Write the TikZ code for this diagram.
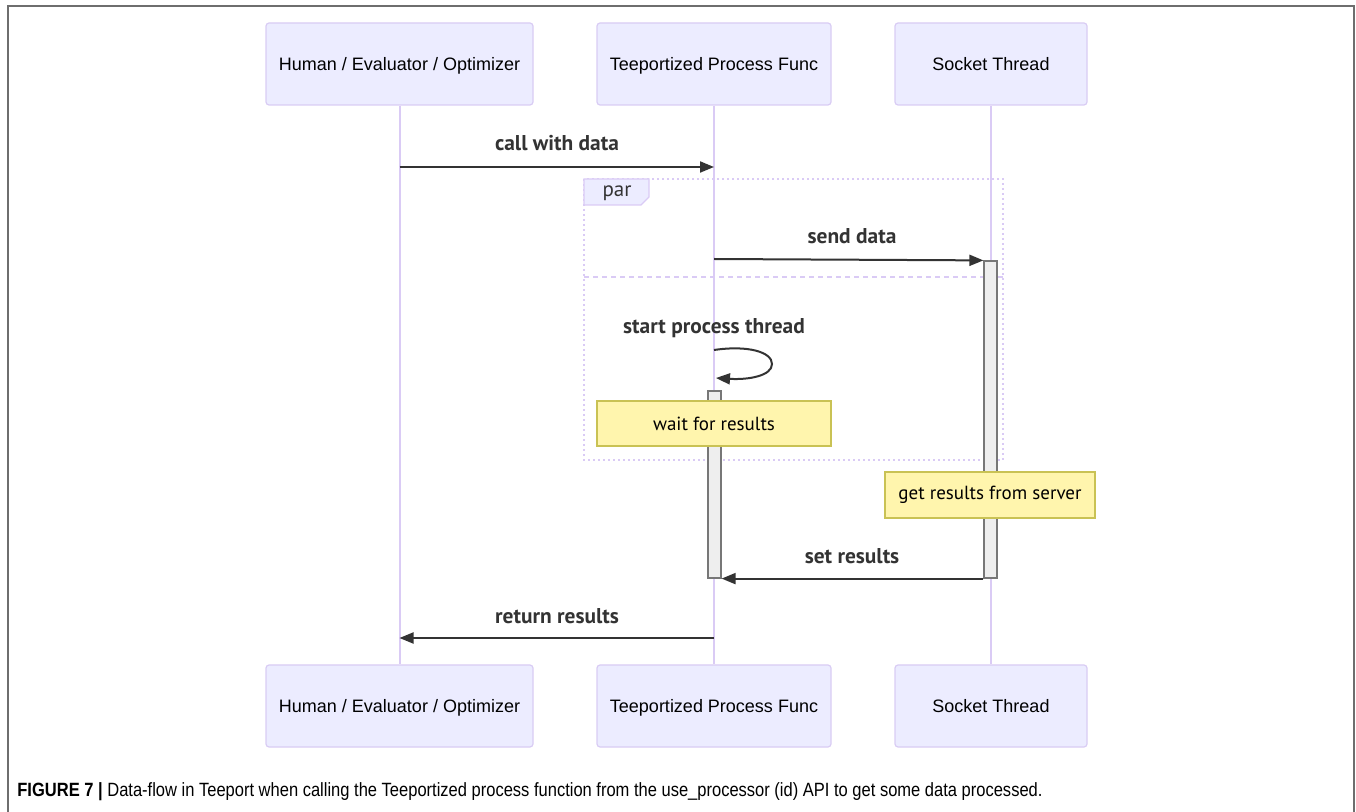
\documentclass[tikz,border=0pt]{standalone}
\usepackage{fontspec}
\setmainfont{Liberation Sans}
\newfontfamily\msgfont{PT Sans}
\newfontfamily\capfont[FakeStretch=0.86]{Liberation Sans}
\usetikzlibrary{arrows.meta, positioning, calc}
\definecolor{ActorFill}{HTML}{ECECFF}
\definecolor{ActorLine}{HTML}{D9CCF4}
\definecolor{LifeLine}{HTML}{DACBF5}
\definecolor{MsgDark}{HTML}{333333}
\definecolor{NoteFill}{HTML}{FFF5AD}
\definecolor{NoteLine}{HTML}{C9C254}
\definecolor{ActFill}{HTML}{EEEEEE}
\definecolor{ActLine}{HTML}{777777}
\definecolor{FrameGray}{HTML}{6E6E6E}

\begin{document}
\begin{tikzpicture}[x=0.5pt, y=-0.5pt,
    actor/.style={draw=ActorLine, fill=ActorFill, rounded corners=1.5pt, line width=0.6pt, inner sep=0pt, minimum height=41pt, text height=1.65ex, text depth=0.35ex, font=\fontsize{9}{11}\selectfont},
    lifeline/.style={draw=LifeLine, line width=1pt},
    msg/.style={-{Triangle[length=7pt, width=5.5pt]}, line width=1pt, color=MsgDark},
    msglabel/.style={font=\msgfont\bfseries\fontsize{10.7}{12}\selectfont, text=MsgDark},
    note/.style={draw=NoteLine, fill=NoteFill, line width=0.6pt, inner sep=0pt, font=\msgfont\fontsize{9.5}{11}\selectfont},
    activation/.style={draw=ActLine, fill=ActFill, line width=0.6pt, inner sep=0pt, minimum width=6.5pt}]
  \useasboundingbox (0,0) rectangle (1356,812);
  % outer frame
  \draw[FrameGray, line width=0.8pt] (8,812) -- (8,6) -- (1354,6) -- (1354,812);

  % participants
  \node[actor, minimum width=133.5pt] (humTop) at (399.5,64) {Human / Evaluator / Optimizer};
  \node[actor, minimum width=117pt] (procTop) at (714,64) {Teeportized Process Func};
  \node[actor, minimum width=96pt] (sockTop) at (991,64) {Socket Thread};
  \node[actor, minimum width=133.5pt] (humBot) at (399.5,706) {Human / Evaluator / Optimizer};
  \node[actor, minimum width=117pt] (procBot) at (714,706) {Teeportized Process Func};
  \node[actor, minimum width=96pt] (sockBot) at (991,706) {Socket Thread};

  % lifelines
  \draw[lifeline] (humTop) -- (humBot);
  \draw[lifeline] (procTop) -- (procBot);
  \draw[lifeline] (sockTop) -- (sockBot);

  % par block
  \coordinate (parNW) at (584,179);
  \coordinate (parSE) at (1003,460);
  \draw[LifeLine, line width=1pt, dash pattern=on 1pt off 1.5pt] (parNW) rectangle (parSE);
  \draw[LifeLine, line width=1pt, dash pattern=on 2.5pt off 2pt] (parNW |- 0,277) -- (parSE |- 0,277);
  \draw[LifeLine, fill=ActorFill, line width=0.6pt] (parNW) -- (649,179) -- (649,197) -- (641,205) -- (584,205) -- cycle;
  \node[font=\msgfont\fontsize{10.5}{12}\selectfont, text=MsgDark] (parLbl) at (617,193) {par};

  % activations
  \node[activation, minimum height=158.5pt] (actSock) at (990.5,419.5) {};
  \node[activation, minimum height=93.5pt] (actProc) at (714.5,484.5) {};

  % notes
  \node[note, minimum width=117pt, minimum height=22.5pt] (waitNote) at (714,423.5) {wait for results};
  \node[note, minimum width=105pt, minimum height=23pt] (getNote) at (990,495) {get results from server};

  % messages
  \coordinate (m1) at (0,167);
  \coordinate (m2) at (0,259);
  \coordinate (m5) at (0,638);
  \draw[msg] (humTop |- m1) -- (procTop |- m1);
  \node[msglabel] (m1Lbl) at (557,143) {call with data};
  \draw[msg] (procTop |- m2) -- (actSock.north west);
  \node[msglabel] (m2Lbl) at (852,236) {send data};
  \coordinate (loopA) at (714,350);
  \coordinate (loopB) at (716,378);
  \draw[msg] (loopA) .. controls (748,345) and (772,352) .. (772,364) .. controls (772,376) and (748,380) .. (loopB);
  \node[msglabel] (m3Lbl) at (714,328) {start process thread};
  \draw[msg] (actSock.south west) -- (actProc.south east);
  \node[msglabel] (m4Lbl) at (852,556) {set results};
  \draw[msg] (procTop |- m5) -- (humTop |- m5);
  \node[msglabel] (m5Lbl) at (557,616) {return results};

  % caption
  \node[anchor=west, font=\capfont\fontsize{9.6}{11}\selectfont, inner sep=0pt] (caption) at (17,792) {\textbf{FIGURE 7 |} Data-flow in Teeport when calling the Teeportized process function from the use\_processor (id) API to get some data processed.};
\end{tikzpicture}
\end{document}
